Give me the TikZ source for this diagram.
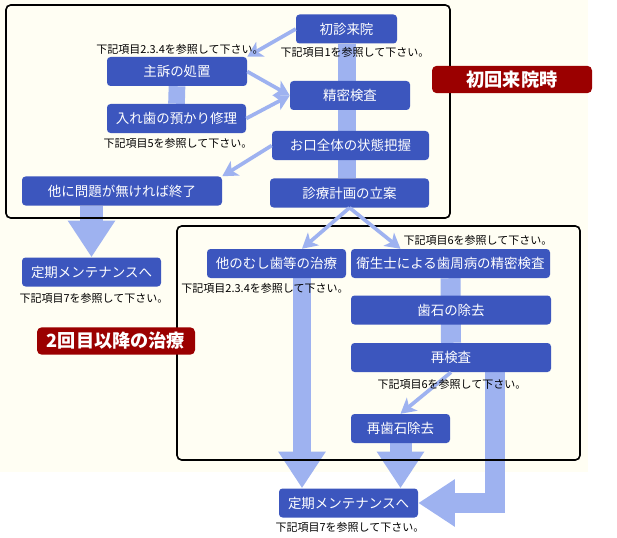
\documentclass[tikz,border=0pt]{standalone}
\usepackage{fontspec}
\setmainfont{Noto Sans CJK JP}
\usetikzlibrary{arrows.meta, positioning, backgrounds}
\definecolor{boxblue}{RGB}{60, 86, 190}
\definecolor{barblue}{RGB}{158, 178, 240}
\definecolor{darkred}{RGB}{155, 0, 0}
\definecolor{cream}{RGB}{255, 254, 243}

\begin{document}
\begin{tikzpicture}[x=0.03cm, y=-0.03cm,
  stepbox/.style={fill=boxblue, text=white, rounded corners=3pt, minimum width=#1*0.03cm, minimum height=0.87cm, inner sep=0pt, font=\fontsize{11.5}{13}\selectfont},
  tag/.style={fill=darkred, text=white, rounded corners=4pt, minimum width=#1*0.03cm, minimum height=0.82cm, inner sep=0pt, font=\fontsize{15.5}{17}\selectfont\bfseries},
  note/.style={inner sep=0pt, font=\fontsize{9.4}{11}\selectfont},
  frame/.style={draw=black, line width=1.4pt, rounded corners=4pt},
  bar/.style={draw=barblue, line width=#1},
  fat/.style={draw=barblue, line width=#1, -{Triangle[length=1.1cm, width=1.35cm]}},
  arrow/.style={draw=barblue, line width=0.11cm, -{Stealth[length=0.45cm, width=0.5cm, inset=0.12cm]}}
]
  \useasboundingbox (0,0) rectangle (617,538);

  % first visit
  \node[stepbox=101] (first) at (346.5,29) {初診来院};
  \node[stepbox=140] (chief) at (177,71.5) {主訴の処置};
  \node[stepbox=139] (denture) at (176.5,118.5) {入れ歯の預かり修理};
  \node[stepbox=120] (detail) at (350,95.5) {精密検査};
  \node[stepbox=157] (whole) at (350.5,145.5) {お口全体の状態把握};
  \node[stepbox=159] (plan) at (349.5,193) {診療計画の立案};
  \node[stepbox=200] (finish) at (122,191) {他に問題が無ければ終了};
  \node[stepbox=139] (maintA) at (91.5,272) {定期メンテナンスへ};
  \node[tag=160] (tagA) at (512,79.5) {初回来院時};

  % second visit and later
  \node[tag=158] (tagB) at (116,341) {2回目以降の治療};
  \node[stepbox=139] (caries) at (276.5,263.5) {他のむし歯等の治療};
  \node[stepbox=199] (perio) at (450.5,263.5) {衛生士による歯周病の精密検査};
  \node[stepbox=200] (tartar) at (451,310) {歯石の除去};
  \node[stepbox=200] (recheck) at (451,357.5) {再検査};
  \node[stepbox=99] (retartar) at (400.5,428.5) {再歯石除去};
  \node[stepbox=139] (maintB) at (348.5,503) {定期メンテナンスへ};

  \coordinate (colA) at (302,0);
  \coordinate (colR) at (495,0);

  \begin{scope}[on background layer]
    \fill[cream] (0,0) rectangle (588,472);
    \draw[bar=0.54cm] (first.south) -- (first.south |- plan.north);
    \draw[bar=0.5cm] (chief.south) -- (denture.north);
    \draw[bar=0.6cm] (perio.south) -- (recheck.north);
    \draw[fat=0.7cm] (finish.south -| maintA) -- (maintA.north);
    \draw[fat=0.52cm] (caries.south -| colA) -- (maintB.north -| colA);
    \draw[fat=0.66cm] (retartar.south) -- (retartar.south |- maintB.north);
    \draw[fat=0.6cm] (recheck.south -| colR) |- (maintB.east);
    \draw[frame] (6,5) rectangle (450,218);
    \draw[frame] (177,226) rectangle (580,460);
  \end{scope}

  \draw[arrow] (first.west) -- (chief.north east);
  \draw[arrow] (chief.east) -- (detail.west);
  \draw[arrow] (denture.east) -- (detail.west);
  \draw[arrow] (whole.west) -- (finish.north east);
  \draw[arrow] (plan.south) -- (caries.north -| colA);
  \draw[arrow] (plan.south) -- (perio.north -| retartar);
  \draw[arrow] (recheck.south) -- (retartar.north);

  \node[note] (noteA) at (355,52) {下記項目1を参照して下さい。};
  \node[note] (noteB) at (180,49) {下記項目2.3.4を参照して下さい。};
  \node[note] (noteC) at (178,143) {下記項目5を参照して下さい。};
  \node[note] (noteD) at (94,298) {下記項目7を参照して下さい。};
  \node[note] (noteE) at (265,288) {下記項目2.3.4を参照して下さい。};
  \node[note] (noteF) at (478,240) {下記項目6を参照して下さい。};
  \node[note] (noteG) at (452,384) {下記項目6を参照して下さい。};
  \node[note] (noteH) at (350,527) {下記項目7を参照して下さい。};
\end{tikzpicture}
\end{document}
